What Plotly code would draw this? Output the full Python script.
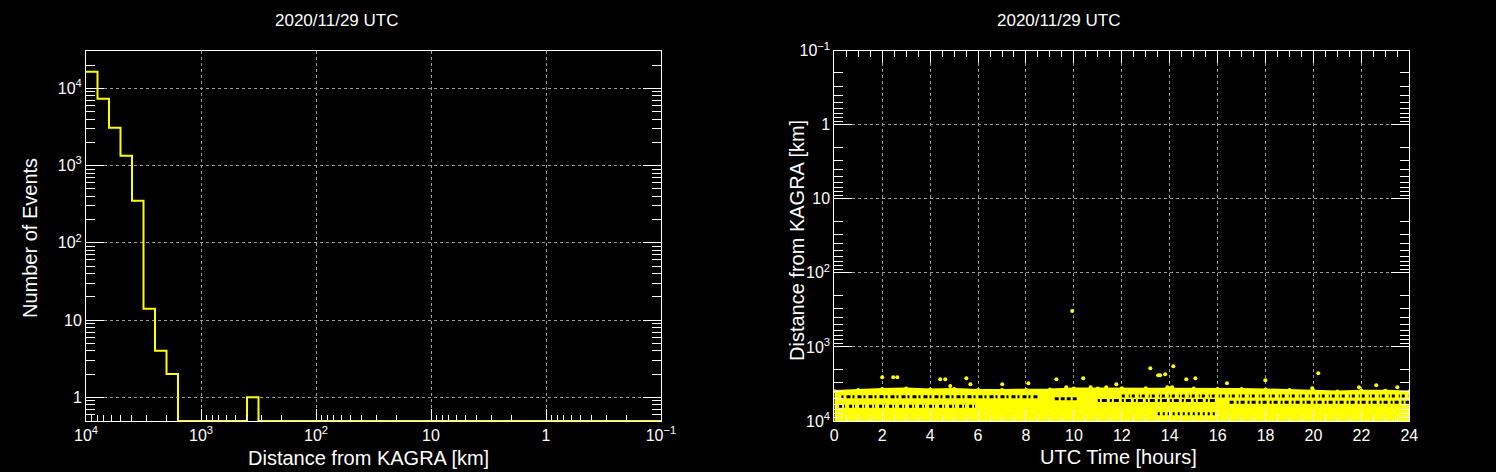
import plotly.graph_objects as go

# ---------------- data: left histogram ----------------
# 50 log-spaced bins from 10^4 km down to 10^-1 km (0.1 decade each)
hist_bin_edges_km = [10 ** (4 - 0.1 * i) for i in range(51)]
hist_counts = [16400, 7350, 3090, 1340, 351, 14, 4, 2, 0, 0,
               0, 0, 0, 0, 1, 0, 0, 0, 0, 0,
               0, 0, 0, 0, 0, 0, 0, 0, 0, 0,
               0, 0, 0, 0, 0, 0, 0, 0, 0, 0,
               0, 0, 0, 0, 0, 0, 0, 0, 0, 0]

# ---------------- data: right scatter ----------------
# dense band of events (upper envelope per hour, band extends down to 10^4 km)
band_hours = [0, 1, 2, 3, 4, 5, 6, 7, 8, 9, 10, 11, 12,
              13, 14, 15, 16, 17, 18, 19, 20, 21, 22, 23, 24]
band_top_km = [3940, 3810, 3700, 3650, 3750, 3700, 3810, 3810, 3810, 3750,
               3650, 3650, 3620, 3620, 3620, 3650, 3700, 3700, 3750, 3810,
               3900, 4000, 3900, 3900, 4000]
band_bottom_km = 10000

# sparser strips inside the band (hour span, distance km)
gap_strips = [
    ([0.2, 6.0], 6300),
    ([0.3, 8.5], 4700),
    ([9.2, 10.2], 5000),
    ([11.0, 16.0], 5300),
    ([12.0, 24.0], 4600),
    ([13.5, 16.0], 8000),
    ([16.5, 24.0], 5600),
]

# isolated events above the band
outlier_hours = [2.00, 2.46, 2.63, 4.42, 4.63, 4.84, 5.51, 5.68, 7.01, 8.10,
                 9.27, 9.68, 9.93, 10.39, 10.70, 11.35, 11.77, 13.19, 13.52, 13.60,
                 13.81, 13.90, 14.10, 14.15, 14.69, 15.07, 16.39, 17.99, 19.95, 20.20,
                 21.90, 22.62, 23.50]
outlier_km = [2570, 2570, 2570, 2735, 2735, 3360, 2650, 3190, 3190, 3100,
              2735, 3500, 327, 2650, 3500, 3500, 3190, 1940, 2410, 2410,
              2340, 3500, 3500, 1820, 2735, 2650, 3100, 2820, 3620, 2270,
              3500, 3300, 3500]

title_text = "2020/11/29 UTC"
dist_title = "Distance from KAGRA [km]"
count_title = "Number of Events"
time_title = "UTC Time [hours]"

km_tickvals = [1e4, 1e3, 1e2, 10, 1, 0.1]
km_ticktext = ["10<sup>4</sup>", "10<sup>3</sup>", "10<sup>2</sup>", "10", "1", "10<sup>\u22121</sup>"]
count_tickvals = [1, 10, 100, 1e3, 1e4]
count_ticktext = ["1", "10", "10<sup>2</sup>", "10<sup>3</sup>", "10<sup>4</sup>"]
hour_tickvals = list(range(0, 25, 2))

# ---------------- styling ----------------
YELLOW = "#ffff00"
WHITE = "#ffffff"
GRID = "#9a9a9a"
FONT = "Liberation Sans, Arial, Helvetica, sans-serif"
W, H = 1496, 472
GAP_DASHES = ["3px,2px,1px,4px", "2px,3px,4px,2px", "4px,2px", "2px,2px,5px,3px",
              "3px,4px,1px,2px", "2px,3px", "4px,3px,2px,2px"]

y_lo_log = -0.307  # bottom of the count axis
y_hi_log = 4.487

def minor_log(lo_exp, hi_exp):
    vals = []
    for e in range(lo_exp, hi_exp):
        for m in range(2, 10):
            vals.append(m * 10 ** e)
    return vals

fig = go.Figure()

# histogram drawn as a step line (empty bins sit on the frame bottom)
floor_val = 10 ** y_lo_log
disp = [c if c > 0 else floor_val for c in hist_counts]
fig.add_trace(go.Scatter(
    x=hist_bin_edges_km, y=disp + [disp[-1]],
    mode="lines", line=dict(color=YELLOW, width=2, shape="hv"),
    xaxis="x", yaxis="y", hoverinfo="skip", showlegend=False))

# dense band
fig.add_trace(go.Scatter(
    x=band_hours, y=[band_bottom_km] * len(band_hours),
    mode="lines", line=dict(color=YELLOW, width=0),
    xaxis="x2", yaxis="y2", showlegend=False, hoverinfo="skip"))
fig.add_trace(go.Scatter(
    x=band_hours, y=band_top_km,
    mode="lines+markers", fill="tonexty", fillcolor=YELLOW,
    line=dict(color=YELLOW, width=2), marker=dict(color=YELLOW, size=4),
    xaxis="x2", yaxis="y2", showlegend=False, hoverinfo="skip"))

for i, (hrs, km) in enumerate(gap_strips):
    fig.add_trace(go.Scatter(
        x=hrs, y=[km, km], mode="lines",
        line=dict(color="black", width=3, dash=GAP_DASHES[i % len(GAP_DASHES)]),
        xaxis="x2", yaxis="y2", showlegend=False, hoverinfo="skip"))

fig.add_trace(go.Scatter(
    x=outlier_hours, y=outlier_km, mode="markers",
    marker=dict(color=YELLOW, size=4),
    xaxis="x2", yaxis="y2", showlegend=False, hoverinfo="skip"))

axis_common = dict(
    showline=True, linecolor=WHITE, linewidth=1,
    ticks="inside", tickcolor=WHITE, tickwidth=1,
    showgrid=True, gridcolor=GRID, griddash="dot", gridwidth=1,
    zeroline=False, automargin=False,
    tickfont=dict(family=FONT, size=16, color=WHITE),
)

x1d = [86 / W, 661 / W]
x2d = [834.3 / W, 1409.3 / W]
yd = [(H - 421) / H, (H - 50.7) / H]

fig.update_layout(
    template="none",
    width=W, height=H,
    margin=dict(l=0, r=0, t=0, b=0, pad=0),
    paper_bgcolor="black", plot_bgcolor="black",
    showlegend=False,
    xaxis=dict(axis_common, domain=x1d, anchor="y", type="log", range=[4, -1],
               tickmode="array", tickvals=km_tickvals, ticktext=km_ticktext,
               ticklen=12, mirror=True,
               minor=dict(tickmode="array", tickvals=minor_log(-1, 4), ticks="inside",
                          ticklen=6, tickcolor=WHITE, showgrid=False)),
    yaxis=dict(axis_common, domain=yd, anchor="x", type="log", range=[y_lo_log, y_hi_log],
               tickmode="array", tickvals=count_tickvals, ticktext=count_ticktext,
               ticklen=18, mirror="ticks",
               minor=dict(tickmode="array", tickvals=minor_log(-1, 5), ticks="inside",
                          ticklen=9, tickcolor=WHITE, showgrid=False)),
    xaxis2=dict(axis_common, domain=x2d, anchor="y2", range=[0, 24],
                tickmode="array", tickvals=hour_tickvals,
                ticklen=12, mirror="ticks",
                minor=dict(dtick=0.5, ticks="inside", ticklen=6,
                           tickcolor=WHITE, showgrid=False)),
    yaxis2=dict(axis_common, domain=yd, anchor="x2", type="log", range=[4, -1],
                tickmode="array", tickvals=km_tickvals, ticktext=km_ticktext,
                ticklen=18, mirror="ticks",
                minor=dict(tickmode="array", tickvals=minor_log(-1, 4), ticks="inside",
                           ticklen=9, tickcolor=WHITE, showgrid=False)),
)

def ann(text, x, y, size, angle=0):
    fig.add_annotation(text=text, x=x / W, y=1 - y / H, xref="paper", yref="paper",
                       showarrow=False, textangle=angle,
                       font=dict(family=FONT, size=size, color=WHITE),
                       xanchor="center", yanchor="middle")

ann(title_text, 336, 20, 17)
ann(title_text, 1058, 20, 17)
ann(count_title, 30, 238, 20, -90)
ann(dist_title, 368, 458, 20)
ann(dist_title, 797, 241, 20, -90)
ann(time_title, 1118, 457, 20)

fig.write_html(
    "out.html",
    config={"displayModeBar": False, "staticPlot": True},
    post_script="document.body.style.margin='0';document.body.style.background='black';"
                "document.body.style.overflow='hidden';")
